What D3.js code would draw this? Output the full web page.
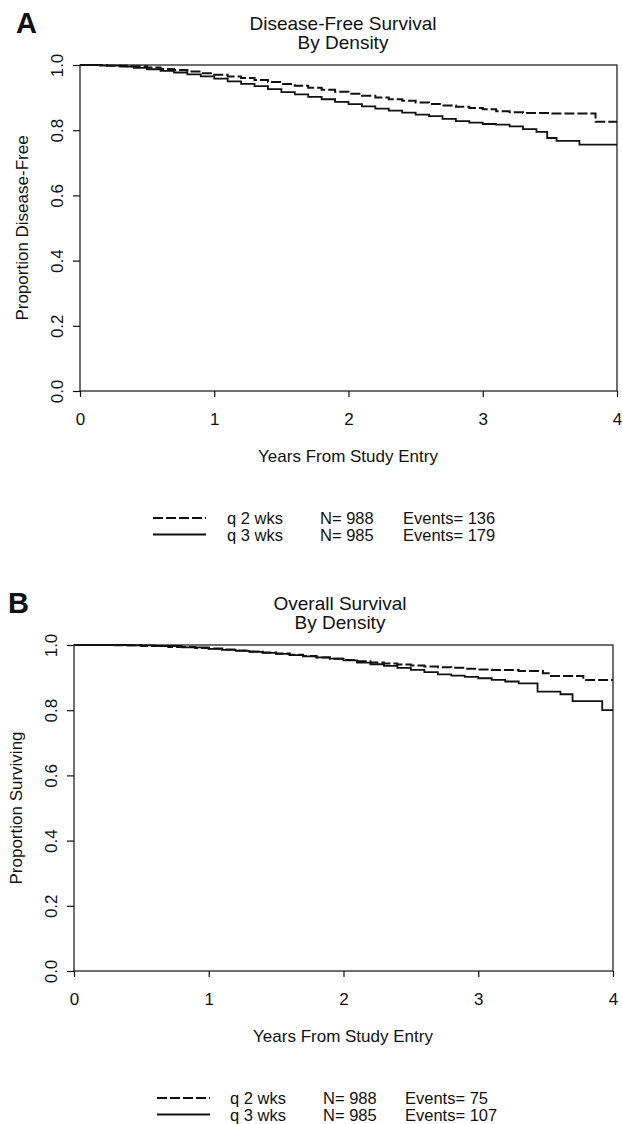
<!DOCTYPE html>
<html>
<head>
<meta charset="utf-8">
<script src="https://cdn.jsdelivr.net/npm/d3@7"></script>
<style>
  html, body { margin: 0; padding: 0; background: #fff; }
  svg { display: block; }
  text { font-family: "Liberation Sans", Arial, Helvetica, sans-serif; fill: #111; }
</style>
</head>
<body>
<svg id="chart" width="622" height="1124"></svg>
<script>
// ---------- DATA ----------
const xTicks = [0, 1, 2, 3, 4];
const yTicks = [0.0, 0.2, 0.4, 0.6, 0.8, 1.0];

// Panel A: Disease-Free Survival
const dfsQ2Time = [0, 0.2, 0.35, 0.5, 0.6, 0.7, 0.8, 0.9, 1.0, 1.1, 1.2, 1.3, 1.4, 1.5, 1.6, 1.7, 1.8, 1.9, 2.0, 2.1, 2.2, 2.3, 2.4, 2.5, 2.6, 2.7, 2.8, 2.9, 3.0, 3.1, 3.2, 3.3, 3.5, 3.84, 4.0];
const dfsQ2Surv = [1.0, 0.998, 0.996, 0.992, 0.988, 0.985, 0.980, 0.975, 0.970, 0.965, 0.960, 0.954, 0.948, 0.942, 0.936, 0.930, 0.924, 0.918, 0.912, 0.906, 0.900, 0.895, 0.890, 0.885, 0.880, 0.876, 0.872, 0.868, 0.864, 0.858, 0.855, 0.853, 0.851, 0.826, 0.826];
const dfsQ3Time = [0, 0.15, 0.3, 0.4, 0.5, 0.6, 0.7, 0.8, 0.9, 1.0, 1.1, 1.2, 1.3, 1.4, 1.5, 1.6, 1.7, 1.8, 1.9, 2.0, 2.1, 2.2, 2.3, 2.4, 2.5, 2.6, 2.7, 2.8, 2.9, 3.0, 3.1, 3.2, 3.3, 3.4, 3.48, 3.55, 3.72, 4.0];
const dfsQ3Surv = [1.0, 0.998, 0.995, 0.991, 0.987, 0.982, 0.977, 0.971, 0.965, 0.958, 0.950, 0.942, 0.935, 0.926, 0.917, 0.910, 0.902, 0.895, 0.887, 0.880, 0.873, 0.866, 0.860, 0.854, 0.848, 0.843, 0.835, 0.828, 0.823, 0.819, 0.817, 0.812, 0.803, 0.795, 0.776, 0.767, 0.756, 0.756];

// Panel B: Overall Survival
const osQ2Time = [0, 0.3, 0.5, 0.7, 0.9, 1.0, 1.1, 1.2, 1.3, 1.4, 1.5, 1.6, 1.7, 1.8, 1.9, 2.0, 2.1, 2.2, 2.3, 2.4, 2.5, 2.6, 2.7, 2.8, 2.9, 3.0, 3.1, 3.3, 3.48, 3.53, 3.78, 4.0];
const osQ2Surv = [1.0, 0.999, 0.997, 0.994, 0.991, 0.989, 0.986, 0.983, 0.980, 0.977, 0.974, 0.970, 0.966, 0.962, 0.958, 0.954, 0.950, 0.946, 0.943, 0.940, 0.937, 0.934, 0.932, 0.930, 0.927, 0.925, 0.923, 0.920, 0.913, 0.905, 0.893, 0.893];
const osQ3Time = [0, 0.4, 0.6, 0.8, 1.0, 1.1, 1.2, 1.3, 1.4, 1.5, 1.6, 1.7, 1.8, 1.9, 2.0, 2.1, 2.2, 2.3, 2.4, 2.5, 2.6, 2.7, 2.8, 2.9, 3.0, 3.1, 3.2, 3.3, 3.44, 3.61, 3.70, 3.92, 4.0];
const osQ3Surv = [1.0, 0.999, 0.997, 0.993, 0.988, 0.985, 0.982, 0.979, 0.976, 0.973, 0.969, 0.965, 0.962, 0.958, 0.953, 0.946, 0.941, 0.936, 0.930, 0.924, 0.917, 0.910, 0.906, 0.902, 0.898, 0.893, 0.888, 0.882, 0.857, 0.849, 0.828, 0.800, 0.800];

const groupLabels = ["q 2 wks", "q 3 wks"];
const groupN = ["N= 988", "N= 985"];
const dfsEvents = ["Events= 136", "Events= 179"];
const osEvents = ["Events= 75", "Events= 107"];

// ---------- DRAW ----------
const svg = d3.select("#chart");

function panel(cfg) {
  const g = svg.append("g");
  const x = d3.scaleLinear().domain([0, 4]).range([cfg.left, cfg.right]);
  const y = d3.scaleLinear().domain([0, 1]).range([cfg.bottom, cfg.top]);

  g.append("text").attr("x", cfg.letterX).attr("y", cfg.letterY)
    .attr("font-size", 29).attr("font-weight", "bold").text(cfg.letter);

  cfg.title.forEach((t, i) => {
    g.append("text").attr("x", cfg.titleX).attr("y", cfg.titleY + i * 19)
      .attr("text-anchor", "middle").attr("font-size", 19).text(t);
  });

  g.append("rect").attr("x", cfg.left).attr("y", cfg.top)
    .attr("width", cfg.right - cfg.left).attr("height", cfg.bottom - cfg.top)
    .attr("fill", "none").attr("stroke", "#111").attr("stroke-width", 1.2);

  const xa = g.append("g").attr("transform", `translate(0,${cfg.bottom})`)
    .call(d3.axisBottom(x).tickValues(xTicks).tickFormat(d3.format("d")).tickSize(6).tickPadding(16));
  xa.select(".domain").remove();
  xa.selectAll("line").attr("stroke", "#111").attr("stroke-width", 1.2);
  xa.selectAll("text").attr("font-size", 17).attr("fill", "#111")
    .attr("font-family", "Liberation Sans, Arial, sans-serif");

  const ya = g.append("g").attr("transform", `translate(${cfg.left},0)`)
    .call(d3.axisLeft(y).tickValues(yTicks).tickFormat(d3.format(".1f")).tickSize(7));
  ya.select(".domain").remove();
  ya.selectAll("line").attr("stroke", "#111").attr("stroke-width", 1.2);
  ya.selectAll("text").attr("x", null).attr("dy", null)
    .attr("transform", "translate(-17,0) rotate(-90)")
    .attr("text-anchor", "middle").attr("font-size", 17).attr("fill", "#111")
    .attr("font-family", "Liberation Sans, Arial, sans-serif");

  g.append("text").attr("x", cfg.xlabelX).attr("y", cfg.xlabelY)
    .attr("text-anchor", "middle").attr("font-size", 17).text("Years From Study Entry");
  g.append("text").attr("transform", `translate(${cfg.ylabelX},${(cfg.top + cfg.bottom) / 2}) rotate(-90)`)
    .attr("text-anchor", "middle").attr("font-size", 17).text(cfg.ylabel);

  const line = d3.line().x(d => x(d[0])).y(d => y(d[1])).curve(d3.curveStepAfter);
  const s1 = d3.zip(cfg.t1, cfg.s1);
  const s2 = d3.zip(cfg.t2, cfg.s2);
  g.append("path").datum(s2).attr("d", line).attr("fill", "none")
    .attr("stroke", "#111").attr("stroke-width", 1.8);
  g.append("path").datum(s1).attr("d", line).attr("fill", "none")
    .attr("stroke", "#111").attr("stroke-width", 2).attr("stroke-dasharray", "10,3");

  const L = cfg.legend;
  for (let i = 0; i < 2; i++) {
    const yy = L.y + i * 16.5;
    g.append("line").attr("x1", L.x1).attr("x2", L.x2).attr("y1", yy - 6).attr("y2", yy - 6)
      .attr("stroke", "#111").attr("stroke-width", 2)
      .attr("stroke-dasharray", i === 0 ? "10,3" : null);
    g.append("text").attr("x", L.c1).attr("y", yy).attr("font-size", 16.5).text(groupLabels[i]);
    g.append("text").attr("x", L.c2).attr("y", yy).attr("font-size", 16.5).text(groupN[i]);
    g.append("text").attr("x", L.c3).attr("y", yy).attr("font-size", 16.5).text(cfg.events[i]);
  }
}

panel({
  letter: "A", letterX: 16, letterY: 33,
  title: ["Disease-Free Survival", "By Density"], titleX: 343, titleY: 30,
  left: 80, right: 617, top: 65, bottom: 391,
  xlabelX: 348, xlabelY: 462, ylabelX: 28, ylabel: "Proportion Disease-Free",
  t1: dfsQ2Time, s1: dfsQ2Surv, t2: dfsQ3Time, s2: dfsQ3Surv,
  events: dfsEvents,
  legend: { y: 524, x1: 153, x2: 206, c1: 227, c2: 320, c3: 403 }
});

panel({
  letter: "B", letterX: 8, letterY: 613,
  title: ["Overall Survival", "By Density"], titleX: 340, titleY: 610,
  left: 74, right: 613, top: 645, bottom: 971,
  xlabelX: 343, xlabelY: 1042, ylabelX: 22, ylabel: "Proportion Surviving",
  t1: osQ2Time, s1: osQ2Surv, t2: osQ3Time, s2: osQ3Surv,
  events: osEvents,
  legend: { y: 1104, x1: 157, x2: 210, c1: 230, c2: 323, c3: 405 }
});
</script>
</body>
</html>
